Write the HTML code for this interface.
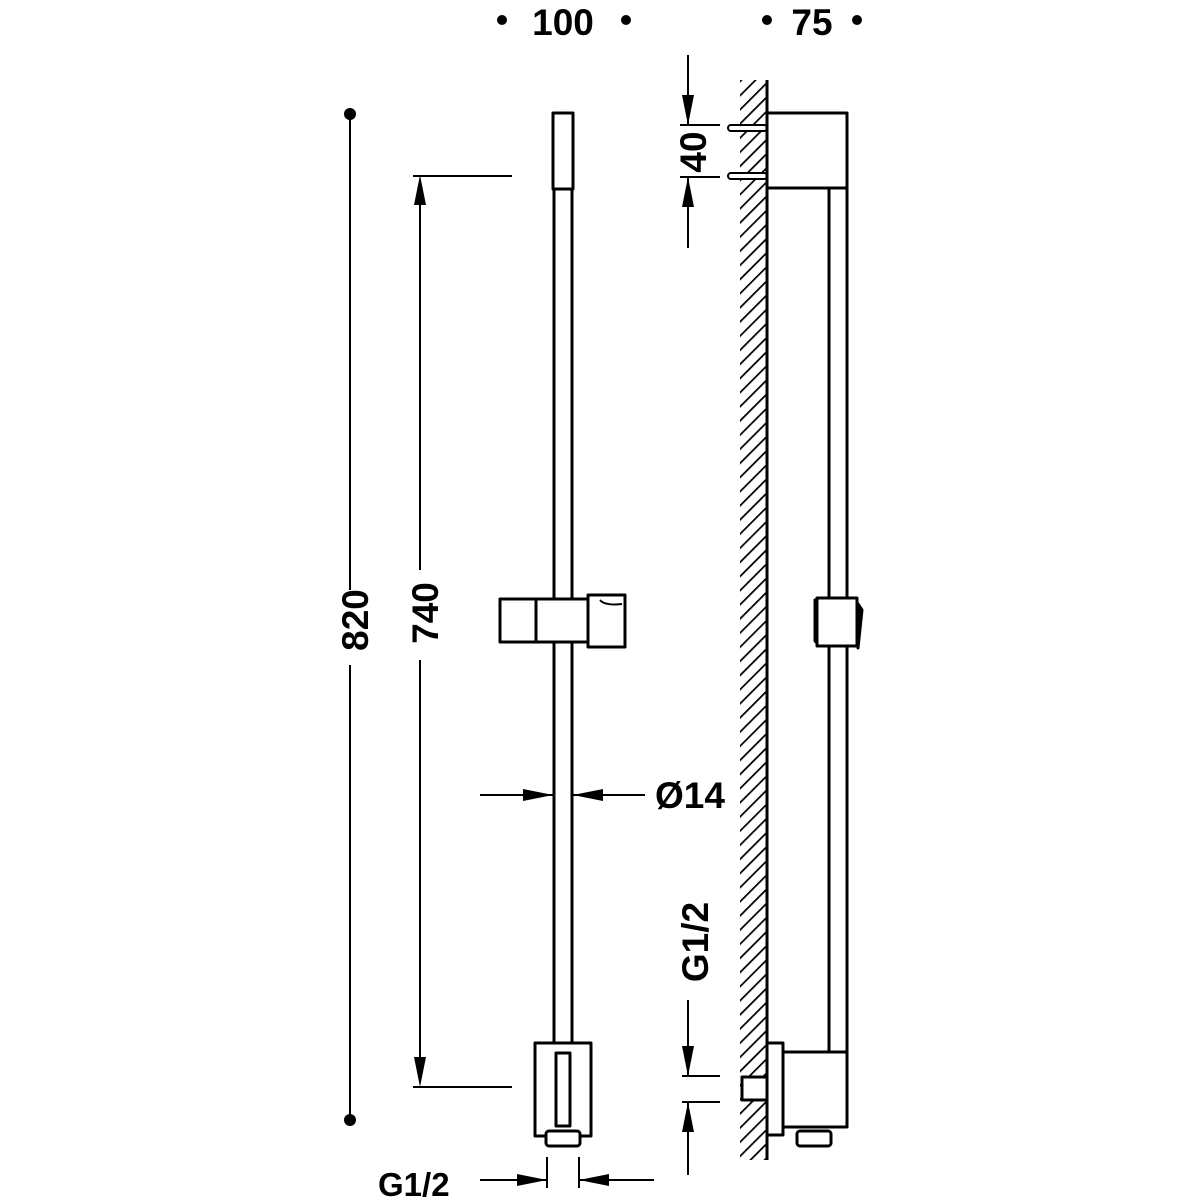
<!DOCTYPE html>
<html><head><style>html,body{margin:0;padding:0;background:#fff}svg{display:block}</style></head><body>
<svg width="1200" height="1200" viewBox="0 0 1200 1200" xmlns="http://www.w3.org/2000/svg" font-family="Liberation Sans, Arial, sans-serif" font-weight="bold">
<defs>
<pattern id="h" patternUnits="userSpaceOnUse" width="10" height="10" patternTransform="rotate(45)">
<rect width="10" height="10" fill="#fff"/><line x1="0" y1="0" x2="0" y2="10" stroke="#000" stroke-width="3.5"/>
</pattern>
</defs>
<g fill="#000">
<circle cx="502" cy="20" r="5"/><circle cx="626" cy="20" r="5"/>
<circle cx="767" cy="20" r="5"/><circle cx="857" cy="20" r="5"/>
<text x="563" y="35" font-size="37" text-anchor="middle">100</text>
<text x="812" y="35" font-size="37" text-anchor="middle">75</text>
<circle cx="350" cy="114" r="6"/><circle cx="350" cy="1120" r="6"/>
<text transform="translate(368,620) rotate(-90)" font-size="37" text-anchor="middle">820</text>
<text transform="translate(438,613) rotate(-90)" font-size="37" text-anchor="middle">740</text>
<text x="655" y="808" font-size="37">Ø14</text>
<text x="378" y="1196" font-size="33">G1/2</text>
<text transform="translate(708,942) rotate(-90)" font-size="37" text-anchor="middle">G1/2</text>
<text transform="translate(706,152) rotate(-90)" font-size="37" text-anchor="middle">40</text>
<polygon points="420,175 414,205 426,205"/><polygon points="420,1087 414,1057 426,1057"/>
<polygon points="553,795 523,789 523,801"/><polygon points="573,795 603,789 603,801"/>
<polygon points="547,1180 517,1174 517,1186"/><polygon points="579,1180 609,1174 609,1186"/>
<polygon points="688,125 682,95 694,95"/><polygon points="688,177 682,207 694,207"/>
<polygon points="688,1076 682,1046 694,1046"/><polygon points="688,1102 682,1132 694,1132"/>
</g>
<g stroke="#000" stroke-width="2" fill="none">
<line x1="350" y1="114" x2="350" y2="590"/><line x1="350" y1="665" x2="350" y2="1120"/>
<line x1="420" y1="180" x2="420" y2="570"/><line x1="420" y1="660" x2="420" y2="1082"/>
<line x1="413" y1="176" x2="512" y2="176"/><line x1="413" y1="1087" x2="512" y2="1087"/>
<line x1="480" y1="795" x2="553" y2="795"/><line x1="573" y1="795" x2="645" y2="795"/>
<line x1="480" y1="1180" x2="547" y2="1180"/><line x1="579" y1="1180" x2="654" y2="1180"/>
<line x1="547" y1="1157" x2="547" y2="1188"/><line x1="579" y1="1157" x2="579" y2="1188"/>
<line x1="688" y1="55" x2="688" y2="125"/><line x1="688" y1="177" x2="688" y2="248"/>
<line x1="680" y1="125" x2="720" y2="125"/><line x1="680" y1="177" x2="720" y2="177"/>
<line x1="688" y1="1000" x2="688" y2="1076"/><line x1="688" y1="1102" x2="688" y2="1175"/>
<line x1="682" y1="1076" x2="720" y2="1076"/><line x1="682" y1="1102" x2="720" y2="1102"/>
</g>
<g stroke="#000" stroke-width="3" fill="#fff" stroke-linejoin="round">
<line x1="554" y1="189" x2="554" y2="1045"/><line x1="572" y1="189" x2="572" y2="1045"/>
<rect x="553" y="113" width="20" height="76"/>
<rect x="500" y="599" width="36" height="43"/>
<rect x="536" y="599" width="52" height="43"/>
<rect x="588" y="595" width="37" height="52"/>
<path d="M600 600 Q605 606 622 604" fill="none" stroke-width="2"/>
<rect x="535" y="1043" width="56" height="93"/>
<rect x="556" y="1053" width="14" height="73"/>
<rect x="546" y="1131" width="34" height="15" rx="3"/>
<rect x="740" y="80" width="27" height="1080" fill="url(#h)" stroke="none"/>
<line x1="767" y1="80" x2="767" y2="1160"/>
<line x1="829" y1="188" x2="829" y2="1052"/><line x1="847" y1="188" x2="847" y2="1052"/>
<rect x="728" y="125" width="39" height="6" rx="3" stroke-width="2"/>
<rect x="728" y="173" width="39" height="6" rx="3" stroke-width="2"/>
<rect x="767" y="113" width="80" height="75"/>
<polygon points="815,600 819,606 819,645 815,641" fill="#000"/>
<polygon points="858,604 862,610 858,648" fill="#000"/>
<rect x="817" y="598" width="40" height="48"/>
<rect x="742" y="1077" width="25" height="23"/>
<rect x="767" y="1043" width="16" height="92"/>
<rect x="783" y="1052" width="64" height="75"/>
<rect x="797" y="1131" width="34" height="15" rx="3"/>
</g>
</svg>
</body></html>
